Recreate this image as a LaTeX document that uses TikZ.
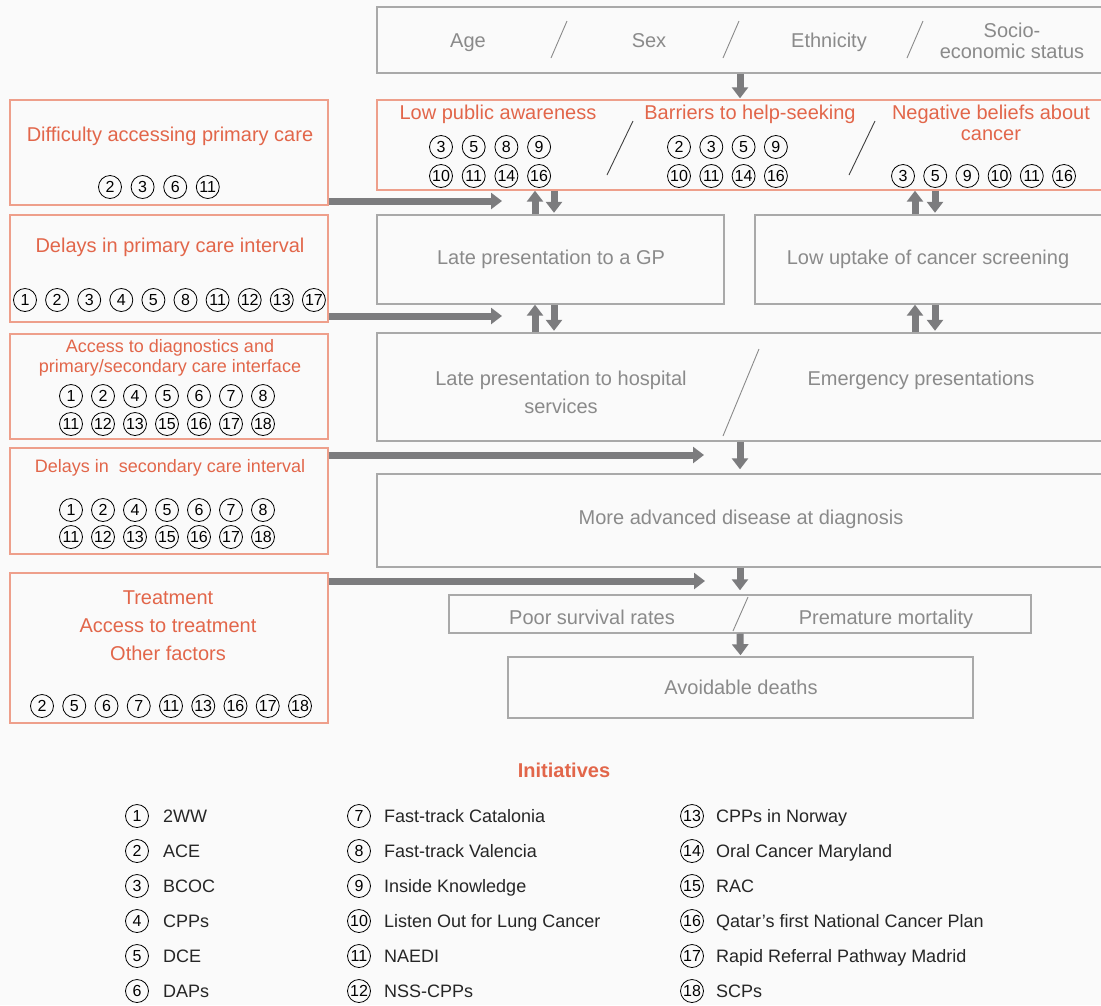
\documentclass[tikz,border=0pt]{standalone}
\usepackage{fontspec}
\setmainfont{Liberation Sans}
\usetikzlibrary{arrows.meta}

\definecolor{bg}{HTML}{FAFAFA}
\definecolor{ortext}{HTML}{E2664A}
\definecolor{orline}{HTML}{EE9F8B}
\definecolor{gtext}{HTML}{8A8A8A}
\definecolor{gline}{HTML}{A9A9A9}
\definecolor{arrowgray}{HTML}{7C7C7E}
\definecolor{legtext}{HTML}{262626}
\definecolor{slashdark}{HTML}{404040}

\newcommand{\bigtxt}{\fontsize{20}{22}\selectfont}
\newcommand{\midtxt}{\fontsize{18}{20}\selectfont}
\newcommand{\numtxt}{\fontsize{16}{16}\selectfont}

\tikzset{
  gbox/.style={draw=gline, line width=1.4pt, rectangle, inner sep=0pt},
  obox/.style={draw=orline, line width=1.4pt, rectangle, inner sep=0pt},
  gtxt/.style={text=gtext, font=\bigtxt, anchor=base, inner sep=0pt},
  otxt/.style={text=ortext, font=\bigtxt, anchor=base, inner sep=0pt},
  osmall/.style={text=ortext, font=\midtxt, anchor=base, inner sep=0pt},
  legitem/.style={text=legtext, font=\midtxt, anchor=base west, inner sep=0pt},
  num/.style={circle, draw=black, line width=0.8pt, minimum size=23pt, inner sep=0pt, font=\numtxt},
  arr/.style={draw=arrowgray, line width=7pt, -{Triangle[width=16pt,length=11pt]}},
  slashline/.style={draw=#1, line width=0.9pt},
}

\begin{document}
\begin{tikzpicture}[x=1pt, y=-1pt]
  \useasboundingbox (0,0) rectangle (1101,1005);
  \clip (0,0) rectangle (1101,1005);
  \fill[bg] (0,0) rectangle (1101,1005);

  % ---- right-hand pathway boxes ----
  \node[gbox, minimum width=726pt, minimum height=66pt]  (demo)   at (740,40) {};
  \node[obox, minimum width=726pt, minimum height=90pt]  (aware)  at (740,145) {};
  \node[gbox, minimum width=347pt, minimum height=89pt]  (gp)     at (550.5,259.5) {};
  \node[gbox, minimum width=348pt, minimum height=89pt]  (screen) at (929,259.5) {};
  \node[gbox, minimum width=726pt, minimum height=108pt] (hosp)   at (740,387) {};
  \node[gbox, minimum width=726pt, minimum height=93pt]  (adv)    at (740,520.5) {};
  \node[gbox, minimum width=582pt, minimum height=38pt]  (surv)   at (740,614) {};
  \node[gbox, minimum width=465pt, minimum height=61pt]  (avoid)  at (740.5,687.5) {};

  % ---- left-hand factor boxes ----
  \node[obox, minimum width=318pt, minimum height=105pt] (b1) at (169,152.5) {};
  \node[obox, minimum width=318pt, minimum height=107pt] (b2) at (169,268.5) {};
  \node[obox, minimum width=318pt, minimum height=105pt] (b3) at (169,386.5) {};
  \node[obox, minimum width=318pt, minimum height=106pt] (b4) at (169,501) {};
  \node[obox, minimum width=318pt, minimum height=150pt] (b5) at (169,648) {};

  % ---- demographic factors ----
  \node[gtxt] (age)   at (468,47) {Age};
  \node[gtxt] (sex)   at (649,47) {Sex};
  \node[gtxt] (eth)   at (829,47) {Ethnicity};
  \node[gtxt] (ses1)  at (1012,37) {Socio-};
  \node[gtxt] (ses2)  at (1012,58) {economic status};
  \draw[slashline=gtext] (551,58) -- (567,21);
  \draw[slashline=gtext] (723,58) -- (739,21);
  \draw[slashline=gtext] (907,58) -- (923,21);

  % ---- awareness / help-seeking / beliefs ----
  \node[otxt] (aw1) at (498,119) {Low public awareness};
  \node[otxt] (aw2) at (750,119) {Barriers to help-seeking};
  \node[otxt] (aw3) at (991,119) {Negative beliefs about};
  \node[otxt] (aw4) at (991,140) {cancer};
  \draw[slashline=slashdark] (607,175) -- (633,121);
  \draw[slashline=slashdark] (849,175) -- (875,121);
  \foreach \n [count=\i from 0] in {3,5,8,9}
    \node[num] (awa\i) at ({441+32.7*\i},147) {\n};
  \foreach \n [count=\i from 0] in {10,11,14,16}
    \node[num] (awb\i) at ({441+32.7*\i},176) {\n};
  \foreach \n [count=\i from 0] in {2,3,5,9}
    \node[num] (bha\i) at ({679+32.3*\i},147) {\n};
  \foreach \n [count=\i from 0] in {10,11,14,16}
    \node[num] (bhb\i) at ({679+32.3*\i},176) {\n};
  \foreach \n [count=\i from 0] in {3,5,9,10,11,16}
    \node[num] (nb\i) at ({903+32.2*\i},176) {\n};

  % ---- pathway texts ----
  \node[gtxt] (gpt)   at (551,264) {Late presentation to a GP};
  \node[gtxt] (scrt)  at (928,264) {Low uptake of cancer screening};
  \node[gtxt] (hos1)  at (561,385) {Late presentation to hospital};
  \node[gtxt] (hos2)  at (561,413) {services};
  \node[gtxt] (emer)  at (921,385) {Emergency presentations};
  \draw[slashline=gtext] (723,436) -- (759,349);
  \node[gtxt] (advt)  at (741,524) {More advanced disease at diagnosis};
  \node[gtxt] (survt) at (592,624) {Poor survival rates};
  \draw[slashline=gtext] (733,631) -- (748,597);
  \node[gtxt] (mort)  at (886,624) {Premature mortality};
  \node[gtxt] (avt)   at (741,694) {Avoidable deaths};

  % ---- left box texts and initiative markers ----
  \node[otxt] (b1t) at (170,141) {Difficulty accessing primary care};
  \foreach \n [count=\i from 0] in {2,3,6,11}
    \node[num] (b1n\i) at ({110+32.6*\i},187) {\n};

  \node[otxt] (b2t) at (170,252) {Delays in primary care interval};
  \foreach \n [count=\i from 0] in {1,2,3,4,5,8,11,12,13,17}
    \node[num] (b2n\i) at ({25+32.1*\i},300) {\n};

  \node[osmall] (b3t1) at (170,352) {Access to diagnostics and};
  \node[osmall] (b3t2) at (170,372) {primary/secondary care interface};
  \foreach \n [count=\i from 0] in {1,2,4,5,6,7,8}
    \node[num] (b3a\i) at ({71+32*\i},396) {\n};
  \foreach \n [count=\i from 0] in {11,12,13,15,16,17,18}
    \node[num] (b3b\i) at ({71+32*\i},424) {\n};

  \node[osmall] (b4t) at (170,472) {Delays in\ \ secondary care interval};
  \foreach \n [count=\i from 0] in {1,2,4,5,6,7,8}
    \node[num] (b4a\i) at ({71+32*\i},510) {\n};
  \foreach \n [count=\i from 0] in {11,12,13,15,16,17,18}
    \node[num] (b4b\i) at ({71+32*\i},537) {\n};

  \node[otxt] (b5t1) at (168,604) {Treatment};
  \node[otxt] (b5t2) at (168,632) {Access to treatment};
  \node[otxt] (b5t3) at (168,660) {Other factors};
  \foreach \n [count=\i from 0] in {2,5,6,7,11,13,16,17,18}
    \node[num] (b5n\i) at ({42+32.25*\i},706) {\n};

  % ---- connectors ----
  \coordinate (ua) at (535,0);
  \coordinate (da) at (554,0);
  \coordinate (ub) at (915,0);
  \coordinate (db) at (935,0);
  \draw[arr] (demo.south) -- ([yshift=1pt]aware.north);
  \draw[arr] (ua |- gp.north) -- (ua |- aware.south);
  \draw[arr] (da |- aware.south) -- ([yshift=1.5pt]da |- gp.north);
  \draw[arr] (ua |- hosp.north) -- (ua |- gp.south);
  \draw[arr] (da |- gp.south) -- ([yshift=1.5pt]da |- hosp.north);
  \draw[arr] (ub |- screen.north) -- (ub |- aware.south);
  \draw[arr] (db |- aware.south) -- ([yshift=1.5pt]db |- screen.north);
  \draw[arr] (ub |- hosp.north) -- (ub |- screen.south);
  \draw[arr] (db |- screen.south) -- ([yshift=1.5pt]db |- hosp.north);
  \draw[arr] (hosp.south) -- ([yshift=4pt]adv.north);
  \draw[arr] (adv.south) -- ([yshift=4pt]surv.north);
  \draw[arr] (surv.south) -- ([yshift=1pt]avoid.north);

  \coordinate (h1) at (502,201);
  \coordinate (h2) at (502,316);
  \coordinate (h3) at (704,455);
  \coordinate (h4) at (705,581);
  \draw[arr] (b1.east |- h1) -- (h1);
  \draw[arr] (b2.east |- h2) -- (h2);
  \draw[arr] (b4.east |- h3) -- (h3);
  \draw[arr] (b5.east |- h4) -- (h4);

  % ---- legend ----
  \node[text=ortext, font=\bigtxt\bfseries, anchor=base, inner sep=0pt] (legtitle) at (564,777) {Initiatives};
  \foreach \n/\lab [count=\i from 0] in {1/2WW, 2/ACE, 3/BCOC, 4/CPPs, 5/DCE, 6/DAPs} {
    \node[num] (lc\n) at (137,{816+35*\i}) {\n};
    \node[legitem] (ll\n) at (163,{822.5+35*\i}) {\lab};
  }
  \foreach \n/\lab [count=\i from 0] in {7/Fast-track Catalonia, 8/Fast-track Valencia, 9/Inside Knowledge, 10/Listen Out for Lung Cancer, 11/NAEDI, 12/NSS-CPPs} {
    \node[num] (lc\n) at (359,{816+35*\i}) {\n};
    \node[legitem] (ll\n) at (384,{822.5+35*\i}) {\lab};
  }
  \foreach \n/\lab [count=\i from 0] in {13/CPPs in Norway, 14/Oral Cancer Maryland, 15/RAC, 16/Qatar’s first National Cancer Plan, 17/Rapid Referral Pathway Madrid, 18/SCPs} {
    \node[num] (lc\n) at (692,{816+35*\i}) {\n};
    \node[legitem] (ll\n) at (716,{822.5+35*\i}) {\lab};
  }
\end{tikzpicture}
\end{document}
